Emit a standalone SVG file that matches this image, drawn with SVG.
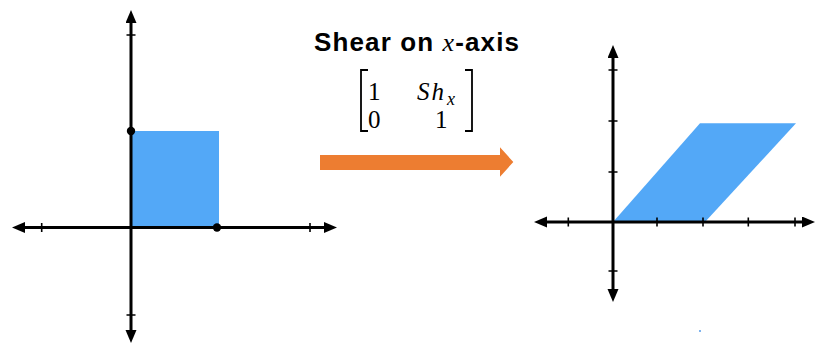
<svg xmlns="http://www.w3.org/2000/svg" width="815" height="345" viewBox="0 0 815 345">
  <style>
    .axis { stroke: #000; stroke-width: 3; fill: none; }
    .tick { stroke: #000; stroke-width: 1.6; fill: none; }
    .shape { fill: #53a8f7; }
    .title { font-family: "Liberation Sans", Arial, sans-serif; font-weight: bold; font-size: 26px; fill: #000; }
    .math { font-family: "Liberation Serif", "Times New Roman", serif; font-style: italic; font-weight: normal; }
    .mnum { font-family: "Liberation Serif", "Times New Roman", serif; font-size: 25px; fill: #000; }
    .mvar { font-family: "Liberation Serif", "Times New Roman", serif; font-size: 25px; font-style: italic; fill: #000; letter-spacing: 2px; }
    .msub { font-family: "Liberation Serif", "Times New Roman", serif; font-size: 18px; font-style: italic; fill: #000; }
    .bracket { stroke: #000; stroke-width: 1.8; fill: none; }
  </style>
  <defs>
    <marker id="ah" markerUnits="userSpaceOnUse" markerWidth="14" markerHeight="12" viewBox="0 0 14 12" refX="3" refY="5.5" orient="auto-start-reverse">
      <path d="M0,0 L13,5.5 L0,11 Z" fill="#000"/>
    </marker>
  </defs>
  <rect width="815" height="345" fill="#fff"/>

  <g id="left-plot">
    <rect class="shape" x="131" y="131" width="88" height="96.5"/>
    <line class="axis" x1="131" y1="20" x2="131" y2="333" marker-start="url(#ah)" marker-end="url(#ah)"/>
    <line class="axis" x1="22" y1="227.5" x2="327" y2="227.5" marker-start="url(#ah)" marker-end="url(#ah)"/>
    <path class="tick" d="M126.5,35 H135.5 M126.5,315 H135.5 M41.7,223 V232 M310,223 V232"/>
    <circle cx="131" cy="131" r="4.2" fill="#000"/>
    <circle cx="217" cy="227.5" r="4.2" fill="#000"/>
  </g>

  <g id="title">
    <text class="title" x="314" y="50.7" textLength="205" lengthAdjust="spacing">Shear on <tspan class="math">x</tspan>-axis</text>
  </g>

  <g id="matrix">
    <path class="bracket" d="M368,70 H361 V131 H368 M465,70 H472 V131 H465"/>
    <text class="mnum" x="368" y="99.7">1</text>
    <text class="mvar" x="417" y="99.7">Sh</text>
    <text class="msub" x="447" y="105">x</text>
    <text class="mnum" x="368" y="128">0</text>
    <text class="mnum" x="435" y="128">1</text>
  </g>

  <g id="connectors">
    <path d="M320,155 H500 V147.3 L513.3,162 L500,176.7 V170 H320 Z" fill="#ed7d31"/>
  </g>

  <g id="right-plot">
    <polygon class="shape" points="613,222 705,222 796,123.3 700,123.3"/>
    <line class="axis" x1="613" y1="55" x2="613" y2="292" marker-start="url(#ah)" marker-end="url(#ah)"/>
    <line class="axis" x1="544" y1="222" x2="805" y2="222" marker-start="url(#ah)" marker-end="url(#ah)"/>
    <path class="tick" d="M608.5,70 H617.5 M608.5,121 H617.5 M608.5,172 H617.5 M608.5,271 H617.5 M568.3,217.5 V226.5 M657,217.5 V226.5 M703,217.5 V226.5 M748.3,217.5 V226.5 M795,217.5 V226.5"/>
    <rect x="699" y="330" width="2" height="2" fill="#7fb4ee"/>
  </g>
</svg>
